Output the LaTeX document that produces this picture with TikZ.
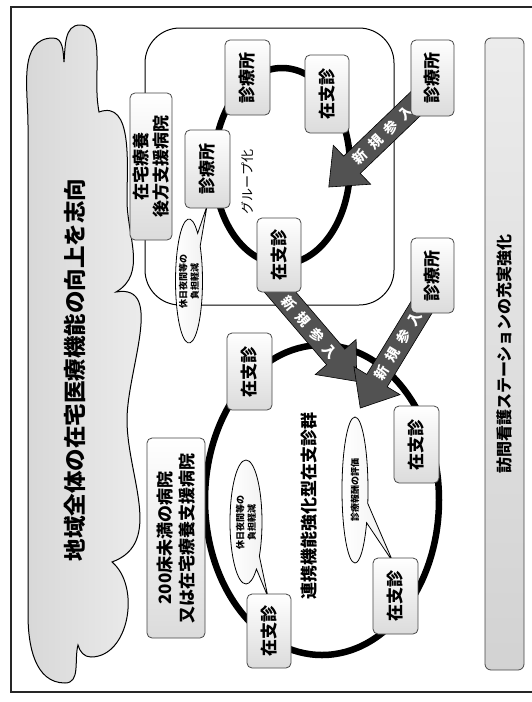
\documentclass[tikz,border=0pt]{standalone}
\usepackage{fontspec}
\newfontfamily\jp{Noto Sans CJK JP}
\usetikzlibrary{shapes.geometric,shapes.arrows,shapes.callouts}
\begin{document}
\begin{tikzpicture}[x=1pt,y=1pt,
  box/.style={draw=gray!55!black, line width=0.8pt, rounded corners=5pt,
    top color=white, bottom color=gray!28, rotate=90, inner sep=2pt, align=center,
    font=\jp\bfseries\fontsize{17}{19}\selectfont},
  ring/.style={ellipse, draw=black, line width=6.5pt, inner sep=0pt},
  newarrow/.style={single arrow, draw=black, line width=0.6pt, fill=black!68, text=white,
    single arrow head extend=15pt, single arrow tip angle=80, inner xsep=3pt, inner ysep=5pt,
    font=\jp\bfseries\fontsize{14}{16}\selectfont},
  bubble/.style={ellipse callout, draw=black, line width=0.8pt, left color=white, right color=gray!12,
    inner sep=0pt, callout pointer arc=16},
  bubbletext/.style={rotate=90, align=center, font=\jp\bfseries\fontsize{9}{11.5}\selectfont},
  label/.style={rotate=90, align=center}
]
\useasboundingbox[fill=white] (0,0) rectangle (532,-702);
% frame
\draw[line width=1.5pt, draw=black!85] (532,-7) -- (11,-7) -- (11,-692) -- (532,-692);
% cloud
\draw[line width=1pt, left color=gray!32, right color=gray!12]
  (28,-125) to[out=90,in=180] (53,-38) to[out=0,in=95] (64,-62)
  to[out=85,in=180] (80,-25) to[out=0,in=90] (97,-70) to[out=-90,in=100] (99,-112)
  to[out=20,in=90] (127,-200) to[out=-90,in=30] (116,-292)
  to[out=10,in=90] (127,-420) to[out=-90,in=20] (112,-562)
  to[out=-40,in=0] (91,-657) to[out=180,in=-75] (78,-645)
  to[out=-105,in=0] (65,-683) to[out=180,in=-90] (28,-615) -- cycle;
\node[label, font=\jp\bfseries\fontsize{22.5}{24}\selectfont] (ct) at (75,-370) {地域全体の在宅医療機能の向上を志向};
% right bar
\node[box, rounded corners=6pt, minimum width=632pt, minimum height=39pt, top color=gray!15, bottom color=gray!35, font=\jp\bfseries\fontsize{16}{18}\selectfont] (bar) at (504.5,-354) {訪問看護ステーションの充実強化};
% upper group frame
\node[draw=black, line width=1pt, rounded corners=35pt, fill=white, minimum width=249pt, minimum height=277pt] (grp) at (269.5,-166.5) {};
% rings
\node[ring, minimum width=136pt, minimum height=196pt] (ringA) at (282,-166) {};
\node[ring, minimum width=234pt, minimum height=310pt] (ringB) at (322,-500) {};
% arrows
\node[newarrow, rotate=43.8, shape border rotate=180, minimum height=136pt] (ar1) at (383,-135) {新\hspace{0.5em}規\hspace{0.5em}参\hspace{0.5em}入};
\node[newarrow, rotate=-49.4, minimum height=129pt] (ar2) at (310,-327) {新\hspace{0.5em}規\hspace{0.5em}参\hspace{0.5em}入};
\node[newarrow, rotate=58.7, shape border rotate=180, minimum height=131pt] (ar3) at (398,-346) {新\hspace{0.5em}規\hspace{0.5em}参\hspace{0.5em}入};
% callouts
\node[bubble, minimum width=27pt, minimum height=124pt, callout absolute pointer={(207,-206)}] (e1) at (189,-281) {};
\node[bubbletext] (e1t) at (e1.center) {休日夜間等の\\負担軽減};
\node[bubble, minimum width=32pt, minimum height=124pt, callout absolute pointer={(268,-597)}] (e2) at (246,-522) {};
\node[bubbletext] (e2t) at (e2.center) {休日夜間等の\\負担軽減};
\node[bubble, minimum width=26pt, minimum height=146pt, callout absolute pointer={(393,-562)}] (e3) at (355,-490) {};
\node[bubbletext] (e3t) at (e3.center) {診療報酬の評価};
% upper group boxes
\node[box, minimum width=75pt, minimum height=45pt] (tg1) at (247.5,-77.5) {診療所};
\node[box, minimum width=78pt, minimum height=44pt] (tz1) at (327,-94) {在支診};
\node[box, minimum width=78pt, minimum height=45pt] (tg2) at (207.5,-169) {診療所};
\node[box, minimum width=74pt, minimum height=44pt] (tz2) at (279,-255) {在支診};
\node[box, minimum width=147pt, minimum height=42pt, font=\jp\bfseries\fontsize{17}{20}\selectfont] (hp1) at (151,-166.5) {在宅療養\\後方支援病院};
\node[label, font=\jp\fontsize{13}{15}\selectfont] (glab) at (248,-182) {グループ化};
% outside clinics
\node[box, minimum width=76pt, minimum height=43pt] (r1) at (432.5,-78) {診療所};
\node[box, minimum width=75pt, minimum height=43pt] (r2) at (432.5,-275.5) {診療所};
% lower group boxes
\node[box, minimum width=77pt, minimum height=45pt] (lz1) at (249.5,-371.5) {在支診};
\node[box, minimum width=77pt, minimum height=45pt] (lz2) at (416.5,-444.5) {在支診};
\node[box, minimum width=76pt, minimum height=45pt] (lz3) at (395.5,-596) {在支診};
\node[box, minimum width=74pt, minimum height=44pt] (lz4) at (269,-631) {在支診};
\node[box, minimum width=200pt, minimum height=58pt, font=\jp\bfseries\fontsize{17}{22}\selectfont] (hp2) at (176,-538) {200床未満の病院\\又は在宅療養支援病院};
\node[label, font=\jp\bfseries\fontsize{17}{19}\selectfont] (llab) at (309,-506) {連携機能強化型在支診群};
\end{tikzpicture}
\end{document}
